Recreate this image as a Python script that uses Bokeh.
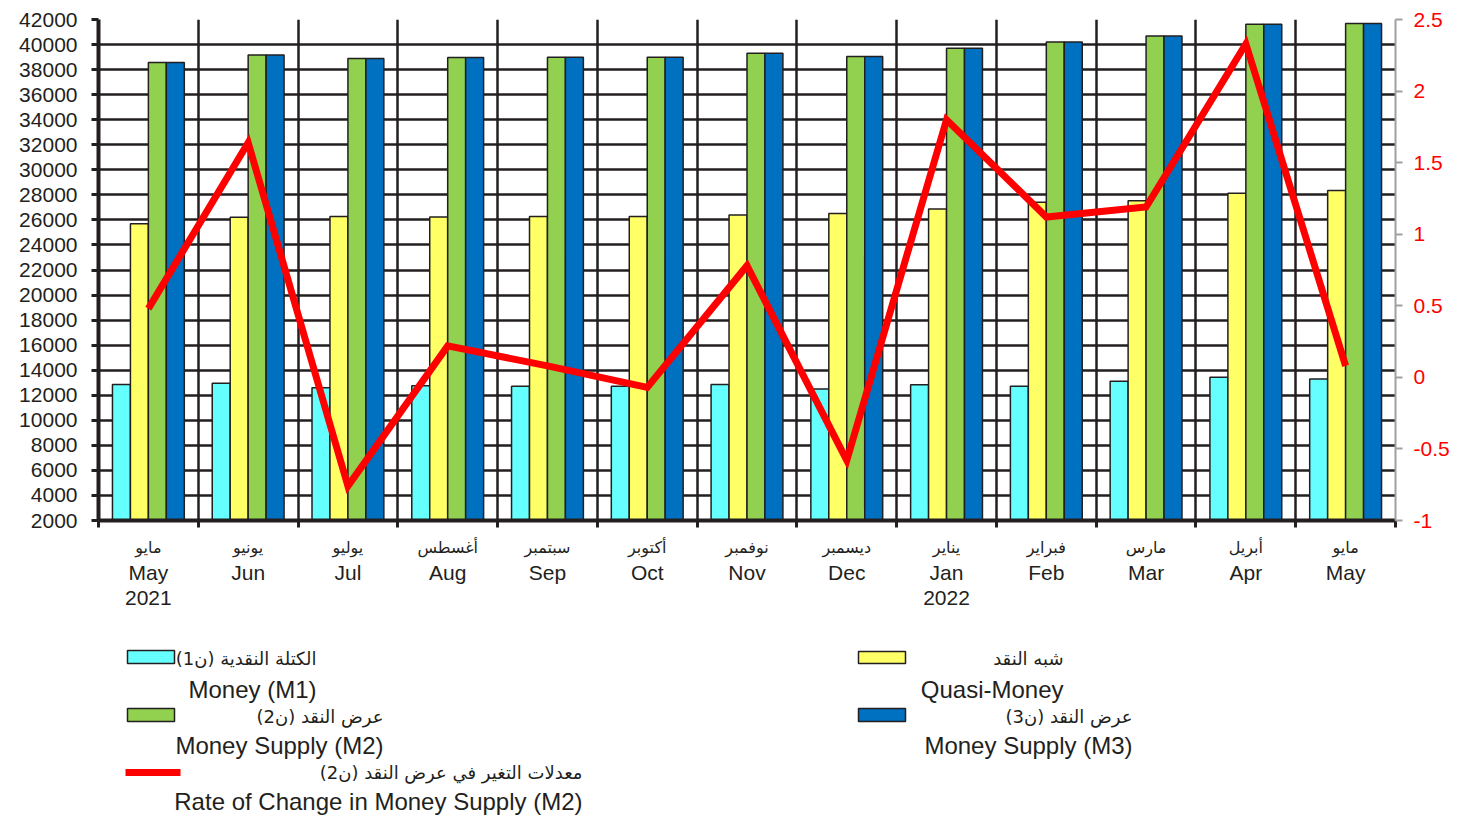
from bokeh.plotting import figure
from bokeh.models import Range1d, LinearAxis, FixedTicker
from bokeh.layouts import column
from bokeh.embed import file_html
from bokeh.resources import INLINE
from bokeh.core.properties import value

# ---------------- data ----------------
months_ar = ["مايو", "يونيو", "يوليو", "أغسطس", "سبتمبر", "أكتوبر", "نوفمبر",
             "ديسمبر", "يناير", "فبراير", "مارس", "أبريل", "مايو"]
months_en = ["May\n2021", "Jun", "Jul", "Aug", "Sep", "Oct", "Nov",
             "Dec", "Jan\n2022", "Feb", "Mar", "Apr", "May"]

m1 = [12850, 12950, 12600, 12750, 12720, 12720, 12850, 12500, 12830, 12720, 13120, 13440, 13300]
quasi = [25700, 26210, 26270, 26240, 26270, 26270, 26400, 26510, 26880, 27410, 27520, 28130, 28350]
m2 = [38560, 39170, 38880, 38960, 38990, 38990, 39310, 39040, 39710, 40210, 40690, 41630, 41680]
m3 = [38560, 39170, 38880, 38960, 38990, 38990, 39310, 39040, 39710, 40210, 40690, 41630, 41680]
rate = [0.48, 1.64, -0.76, 0.22, 0.08, -0.07, 0.78, -0.58, 1.80, 1.12, 1.19, 2.33, 0.08]

left_ticks = [2000, 4000, 6000, 8000, 10000, 12000, 14000, 16000, 18000, 20000,
              22000, 24000, 26000, 28000, 30000, 32000, 34000, 36000, 38000, 40000, 42000]
right_ticks = [-1, -0.5, 0, 0.5, 1, 1.5, 2, 2.5]
right_labels = ["-1", "-0.5", "0", "0.5", "1", "1.5", "2", "2.5"]

legend_ar = ["الكتلة النقدية (ن1)", "شبه النقد", "عرض النقد (ن2)", "عرض النقد (ن3)",
             "معدلات التغير في عرض النقد (ن2)"]
legend_en = ["Money (M1)", "Quasi-Money", "Money Supply (M2)", "Money Supply (M3)",
             "Rate of Change in Money Supply (M2)"]

# ---------------- styles ----------------
DARK = "#231f20"
C_M1, C_Q, C_M2, C_M3, C_R = "#66ffff", "#ffff66", "#92d050", "#0070c0", "#ff0000"
FONT = "Liberation Sans"
AFONT = "DejaVu Sans"

BL, BR = 98, 73          # left / right borders (px)
W = 1468

n = len(months_en)
centers = [i + 0.5 for i in range(n)]
bounds = [float(i) for i in range(n + 1)]

p = figure(width=W, height=615, x_range=Range1d(0, n), y_range=Range1d(2000, 42000),
           output_backend="svg", toolbar_location=None,
           min_border_left=BL, min_border_right=BR, min_border_top=19, min_border_bottom=95,
           outline_line_color=None)
p.extra_y_ranges = {"rate": Range1d(-1, 2.5)}

# grids
p.xgrid.ticker = FixedTicker(ticks=bounds)
p.ygrid.ticker = FixedTicker(ticks=left_ticks)
p.grid.grid_line_color = DARK
p.grid.grid_line_width = 2.5

# bars
bw = 0.18
for vals, off, col in [(m1, -0.27, C_M1), (quasi, -0.09, C_Q), (m2, 0.09, C_M2), (m3, 0.27, C_M3)]:
    p.vbar(x=[c + off for c in centers], top=vals, bottom=2000, width=bw,
           fill_color=col, line_color=DARK, line_width=1.5)

# rate line
p.line(x=centers, y=rate, y_range_name="rate", line_color=C_R, line_width=7, line_join="miter")

# left axis
ya = p.yaxis[0]
ya.ticker = FixedTicker(ticks=left_ticks)
ya.axis_line_color = DARK
ya.axis_line_width = 4
ya.major_tick_out = 7
ya.major_tick_in = 0
ya.major_tick_line_width = 3
ya.major_tick_line_color = DARK
ya.minor_tick_line_color = None
ya.major_label_standoff = 14
ya.major_label_text_font = FONT
ya.major_label_text_font_size = "21px"
ya.major_label_text_color = DARK

# right axis
ra = LinearAxis(y_range_name="rate", ticker=FixedTicker(ticks=right_ticks),
                major_label_overrides=dict(zip(right_ticks, right_labels)))
ra.axis_line_color = "#a0a0a0"
ra.axis_line_width = 2
ra.major_tick_out = 7
ra.major_tick_in = 0
ra.major_tick_line_color = "#a0a0a0"
ra.major_tick_line_width = 2
ra.minor_tick_line_color = None
ra.major_label_standoff = 11
ra.major_label_text_font = FONT
ra.major_label_text_font_size = "21px"
ra.major_label_text_color = C_R
p.add_layout(ra, "right")

# bottom axis (Arabic month names + boundary ticks)
xa = p.xaxis[0]
xa.ticker = FixedTicker(ticks=centers, minor_ticks=bounds)
xa.major_label_overrides = dict(zip(centers, months_ar))
xa.axis_line_color = DARK
xa.axis_line_width = 4
xa.major_tick_out = 7
xa.major_tick_in = 0
xa.major_tick_line_color = None
xa.minor_tick_out = 7
xa.minor_tick_in = 0
xa.minor_tick_line_color = DARK
xa.minor_tick_line_width = 3
xa.major_label_standoff = 10
xa.major_label_text_font = AFONT
xa.major_label_text_font_size = "16px"
xa.major_label_text_color = DARK

# second bottom axis (English month names / year)
xb = LinearAxis(ticker=FixedTicker(ticks=centers),
                major_label_overrides=dict(zip(centers, months_en)))
xb.axis_line_color = None
xb.major_tick_line_color = None
xb.minor_tick_line_color = None
xb.major_tick_out = 0
xb.major_tick_in = 0
xb.minor_tick_out = 0
xb.major_label_standoff = 1
xb.major_label_text_font = FONT
xb.major_label_text_font_size = "21px"
xb.major_label_text_color = DARK
xb.major_label_text_line_height = 1.1
p.add_layout(xb, "below")

# ---------------- legend (separate panel below, page-pixel coordinates) ----------------
leg = figure(width=W, height=200, x_range=Range1d(BL, W - BR), y_range=Range1d(815, 615),
             output_backend="svg", toolbar_location=None,
             x_axis_location=None, y_axis_location=None,
             min_border_left=BL, min_border_right=BR, min_border_top=0, min_border_bottom=0,
             outline_line_color=None)
leg.grid.visible = False

sw_left = [127, 858, 127, 858]
sw_right = [174, 905, 174, 905]
sw_top = [650, 651, 708, 708]
sw_bot = [663, 663, 721, 721]
leg.quad(left=sw_left, right=sw_right, top=sw_top, bottom=sw_bot,
         fill_color=[C_M1, C_Q, C_M2, C_M3], line_color=DARK, line_width=1.5)
leg.line(x=[125, 180], y=[772, 772], line_color=C_R, line_width=7)

ar_x = [316, 1063, 383, 1132, 582]
ar_y = [658, 658, 716, 716, 772]
en_x = [316, 1063, 383, 1132, 582]
en_y = [689, 689, 745, 745, 801]
leg.text(x=ar_x, y=ar_y, text=["\u202b" + t + "\u202c" for t in legend_ar],
         text_align="right", text_baseline="middle", text_font=value(AFONT),
         text_font_size="18px", text_color=DARK)
leg.text(x=en_x, y=en_y, text=legend_en,
         text_align="right", text_baseline="middle", text_font=value(FONT),
         text_font_size="24px", text_color=DARK)

layout = column(p, leg, spacing=0)
open("out.html", "w").write(file_html(layout, INLINE))
